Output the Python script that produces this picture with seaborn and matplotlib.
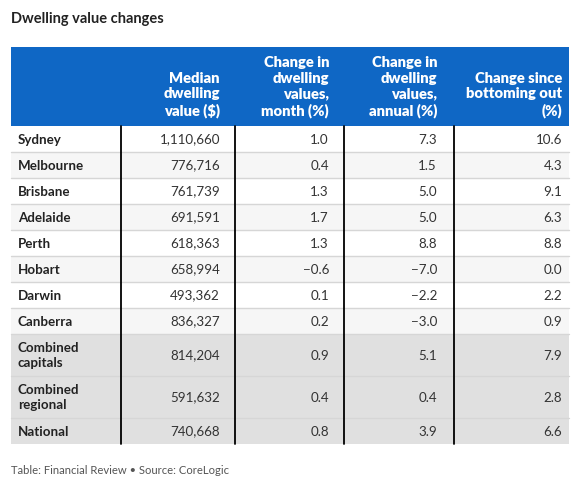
import matplotlib
matplotlib.use('Agg')
import matplotlib.pyplot as plt
from matplotlib.patches import Rectangle
import seaborn as sns

# --- Table data ---
regions = ['Sydney', 'Melbourne', 'Brisbane', 'Adelaide', 'Perth', 'Hobart', 'Darwin',
           'Canberra', 'Combined\ncapitals', 'Combined\nregional', 'National']
median_value = [1110660, 776716, 761739, 691591, 618363, 658994, 493362,
                836327, 814204, 591632, 740668]
change_month = [1.0, 0.4, 1.3, 1.7, 1.3, -0.6, 0.1, 0.2, 0.9, 0.4, 0.8]
change_annual = [7.3, 1.5, 5.0, 5.0, 8.8, -7.0, -2.2, -3.0, 5.1, 0.4, 3.9]
change_bottom = [10.6, 4.3, 9.1, 6.3, 8.8, 0.0, 2.2, 0.9, 7.9, 2.8, 6.6]
headers = ['Median\ndwelling\nvalue ($)', 'Change in\ndwelling\nvalues,\nmonth (%)',
           'Change in\ndwelling\nvalues,\nannual (%)', 'Change since\nbottoming out\n(%)']
summary_rows = ['Combined\ncapitals', 'Combined\nregional', 'National']

sns.set_theme(style='white')
plt.rcParams['font.family'] = ['Lato', 'DejaVu Sans']


def fmt_num(v):
    s = f'{abs(v):.1f}'
    return ('\u2212' + s) if v < 0 else s


fig = plt.figure(figsize=(5.85, 4.86), dpi=100)
ax = fig.add_axes([0, 0, 1, 1])
ax.set_xlim(0, 585)
ax.set_ylim(486, 0)
ax.axis('off')

# column edges in pixels
col_edges = [11, 121, 235, 344, 454, 569]
pad = [15, 15, 17, 7]
head_top, head_bot = 47, 126
one_line, two_line = 26, 42

ax.text(11, 19, 'Dwelling value changes', fontsize=10.5, fontweight='bold',
        color='#222222', va='center', ha='left')

# header
ax.add_patch(Rectangle((col_edges[0], head_top), col_edges[-1] - col_edges[0],
                       head_bot - head_top, color='#0f67c5', lw=0))
for j, h in enumerate(headers):
    ax.text(col_edges[j + 2] - pad[j], head_bot - 8, h, ha='right', va='bottom',
            fontsize=10.6, fontweight='heavy', color='white', linespacing=1.25)

# body
y = head_bot
for i, name in enumerate(regions):
    h = two_line if '\n' in name else one_line
    if name in summary_rows:
        bg = '#e0e0e0'
    elif i % 2 == 1:
        bg = '#f6f6f6'
    else:
        bg = '#ffffff'
    ax.add_patch(Rectangle((col_edges[0], y), col_edges[-1] - col_edges[0], h,
                           color=bg, lw=0))
    if i < len(regions) - 1:
        ax.plot([col_edges[0], col_edges[-1]], [y + h, y + h], color='#d6d6d6', lw=1)
    cy = y + h / 2 + 0.5
    ax.text(18, cy, name, ha='left', va='center', fontsize=9.6, fontweight='bold',
            color='#222222', linespacing=1.3)
    vals = [f'{median_value[i]:,}', fmt_num(change_month[i]),
            fmt_num(change_annual[i]), fmt_num(change_bottom[i])]
    for j, v in enumerate(vals):
        ax.text(col_edges[j + 2] - pad[j], cy, v, ha='right', va='center',
                fontsize=9.6, color='#333333')
    y += h

body_bot = y
for x in col_edges[1:5]:
    ax.plot([x, x], [head_bot, body_bot], color='black', lw=1.3)

ax.text(11, 470, 'Table: Financial Review \u2022 Source: CoreLogic', ha='left',
        va='center', fontsize=8.1, color='#555555')

fig.savefig('out.png', dpi=100)
